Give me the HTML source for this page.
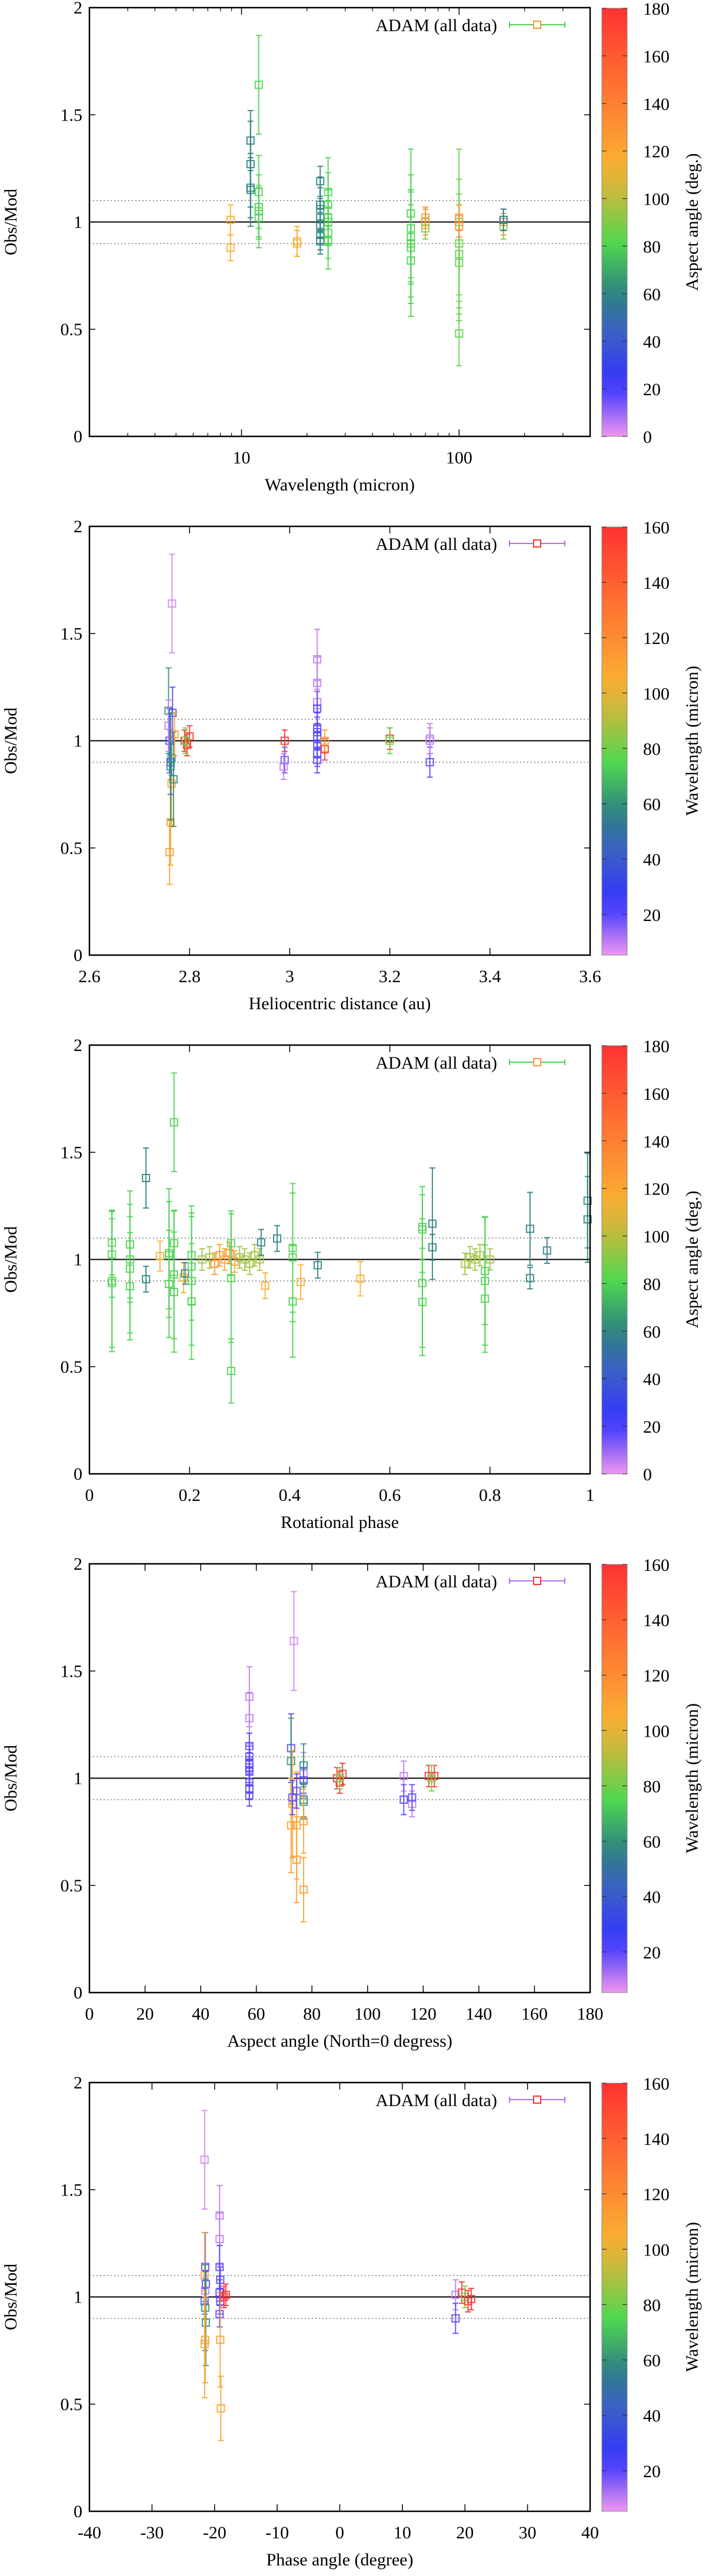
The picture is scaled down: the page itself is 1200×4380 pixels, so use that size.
<!DOCTYPE html>
<html><head><meta charset="utf-8">
<style>
html,body{margin:0;padding:0;background:#fff;}
svg text{font-family:"Liberation Serif",serif;fill:#000;}
</style></head>
<body>
<svg id="chart" width="1200" height="4375" viewBox="0 0 1200 4375" xmlns="http://www.w3.org/2000/svg"></svg>
<script>
// ---------- Panel 1: wavelength vs Obs/Mod, colour = aspect ----------
const p1X = [8.9,8.9,18,18,11,11,11,11,12,12,12,12,12,23,23,23,23,23,23,23,25,25,25,25,25,25,60,60,60,60,60,60,70,70,70,100,100,100,100,100,100,100,160,160,160];
const p1Y = [1.01,0.88,0.91,0.90,1.38,1.27,1.15,1.16,1.64,1.14,1.07,1.02,1.05,1.19,1.08,1.06,1.02,0.98,0.94,0.91,1.14,1.08,1.02,0.95,0.91,1.00,1.04,0.97,0.93,0.90,0.88,0.82,1.00,0.97,1.02,1.00,0.90,0.85,0.81,0.48,1.02,0.98,1.00,0.98,1.01];
const p1E = [0.07,0.06,0.07,0.06,0.14,0.20,0.17,0.14,0.23,0.17,0.15,0.14,0.12,0.07,0.13,0.10,0.09,0.08,0.07,0.06,0.16,0.15,0.13,0.12,0.13,0.10,0.30,0.25,0.22,0.25,0.26,0.26,0.06,0.05,0.05,0.34,0.30,0.28,0.27,0.15,0.06,0.05,0.06,0.06,0.05];
const p1C = [115,115,115,115,60,60,60,60,80,80,80,80,80,60,60,60,60,60,60,60,80,80,80,80,80,80,80,80,80,80,80,80,130,90,130,85,85,85,85,85,130,130,130,90,55];

// ---------- Panel 2: heliocentric distance, colour = wavelength ----------
const p2X = [2.765,2.758,2.76,2.762,2.764,2.768,2.76,2.762,2.766,2.758,2.764,2.77,2.762,2.79,2.795,2.8,2.792,2.99,2.99,2.988,3.055,3.055,3.055,3.055,3.055,3.055,3.055,3.055,3.055,3.055,3.07,3.07,3.2,3.2,3.28,3.28,3.28];
const p2Y = [1.64,1.14,0.48,0.62,0.80,0.82,1.00,0.90,1.13,1.07,0.92,1.03,0.88,1.00,0.98,1.02,1.00,1.00,0.91,0.88,1.38,1.27,1.18,1.15,1.06,1.04,1.02,0.98,0.94,0.91,0.96,1.00,1.01,1.00,1.01,0.90,1.00];
const p2E = [0.23,0.20,0.15,0.20,0.20,0.22,0.15,0.15,0.12,0.12,0.08,0.10,0.25,0.05,0.05,0.05,0.06,0.05,0.06,0.06,0.14,0.12,0.10,0.08,0.07,0.07,0.06,0.06,0.06,0.06,0.05,0.05,0.05,0.06,0.07,0.07,0.06];
const p2C = [8,60,110,110,110,60,20,20,20,10,60,110,60,160,160,160,80,160,18,10,10,10,10,20,20,20,20,20,20,20,160,110,160,80,10,20,10];

// ---------- Panel 3: rotational phase, colour = aspect ----------
const p3X = [0.045,0.045,0.045,0.045,0.081,0.081,0.081,0.081,0.113,0.113,0.141,0.159,0.159,0.159,0.169,0.169,0.169,0.169,0.188,0.191,0.204,0.204,0.204,0.204,0.225,0.24,0.25,0.26,0.27,0.28,0.29,0.3,0.31,0.32,0.33,0.34,0.283,0.283,0.283,0.343,0.351,0.375,0.406,0.406,0.406,0.422,0.456,0.541,0.665,0.665,0.665,0.665,0.685,0.685,0.75,0.76,0.77,0.78,0.8,0.79,0.79,0.79,0.88,0.88,0.914,0.995,0.995];
const p3Y = [1.078,1.024,0.90,0.89,1.07,1.00,0.957,0.875,1.38,0.908,1.016,1.03,1.02,0.886,1.64,1.076,0.93,0.848,0.915,0.935,1.02,0.967,0.90,0.804,1.0,1.01,0.98,1.02,1.0,1.03,0.99,1.01,1.0,0.98,1.02,1.0,1.076,0.913,0.48,1.08,0.878,1.098,1.054,1.01,0.804,0.895,0.973,0.91,1.152,1.14,0.89,0.802,1.167,1.057,0.98,1.01,1.0,1.02,1.0,0.946,0.90,0.817,1.143,0.913,1.042,1.274,1.187];
const p3E = [0.15,0.2,0.33,0.3,0.25,0.2,0.3,0.25,0.14,0.06,0.07,0.3,0.25,0.25,0.23,0.15,0.3,0.28,0.07,0.05,0.23,0.25,0.3,0.27,0.05,0.05,0.05,0.05,0.05,0.05,0.05,0.05,0.05,0.05,0.05,0.05,0.15,0.3,0.15,0.06,0.06,0.06,0.3,0.3,0.26,0.08,0.06,0.08,0.15,0.2,0.3,0.25,0.26,0.06,0.05,0.05,0.05,0.05,0.05,0.25,0.3,0.25,0.17,0.05,0.06,0.22,0.2];
const p3C = [80,80,80,80,80,80,80,80,60,60,115,80,80,80,80,80,80,80,115,60,80,80,80,80,95,95,130,125,120,130,125,95,95,95,95,95,80,80,80,60,115,60,80,80,80,115,60,115,80,80,80,80,60,60,95,95,95,95,95,80,80,80,60,60,60,60,60];

// ---------- Panel 4: aspect angle, colour = wavelength ----------
const p4X = [57.5,57.5,57.5,57.5,57.5,57.5,57.5,57.5,57.5,57.5,72.5,73.5,72.5,73,72.5,73,74.5,74.5,74.5,77,77,77,77,77,77,77,89,90,91,90,113,113,116,116,122,124,123];
const p4Y = [1.38,1.28,1.15,1.10,1.07,1.05,1.03,0.98,0.95,0.92,1.14,1.64,1.08,0.88,0.78,0.91,0.62,0.78,0.94,1.02,1.06,0.99,0.90,0.89,0.80,0.48,1.00,0.98,1.02,1.00,1.01,0.90,0.88,0.91,1.01,1.01,1.00];
const p4E = [0.14,0.12,0.06,0.05,0.05,0.05,0.05,0.05,0.05,0.05,0.16,0.23,0.20,0.25,0.22,0.08,0.2,0.25,0.08,0.1,0.1,0.06,0.08,0.08,0.15,0.15,0.05,0.05,0.05,0.05,0.07,0.07,0.06,0.06,0.05,0.05,0.06];
const p4C = [10,10,20,20,20,20,20,20,20,20,20,8,60,110,110,20,110,110,20,10,60,20,60,60,110,110,160,160,160,80,10,20,10,20,160,160,80];

// ---------- Panel 5: phase angle, colour = wavelength ----------
const p5X = [-21.6,-21.5,-21.6,-21.4,-21.5,-21.6,-21.5,-21.4,-21.5,-21.6,-19.2,-19.2,-19.2,-19.1,-19.2,-19.1,-19.2,-19.1,-19.0,-18.5,-18.2,18.5,18.5,19.5,20.0,20.5,21.0];
const p5Y = [1.64,1.14,1.10,1.06,1.03,0.98,0.95,0.88,0.80,0.78,1.38,1.27,1.14,1.08,1.02,0.98,0.92,0.80,0.48,1.00,1.01,1.01,0.90,1.02,1.00,0.98,0.99];
const p5E = [0.23,0.16,0.2,0.06,0.06,0.06,0.2,0.2,0.2,0.25,0.14,0.12,0.1,0.06,0.06,0.06,0.06,0.22,0.15,0.05,0.05,0.07,0.07,0.05,0.05,0.05,0.05];
const p5C = [8,20,110,20,10,20,60,60,110,110,10,10,20,20,20,20,20,110,110,160,160,10,20,160,80,160,160];

const yTicks = [0,0.5,1,1.5,2];
const yTickLabels = ["0","0.5","1","1.5","2"];

const svg = document.getElementById('chart');
const NS = "http://www.w3.org/2000/svg";
function mk(tag, attrs, parent){
  const e = document.createElementNS(NS, tag);
  for (const k in attrs) e.setAttribute(k, attrs[k]);
  (parent||svg).appendChild(e);
  return e;
}
function lerp(a,b,t){return a+(b-a)*t;}
const stops = [[0,[240,150,240]],[0.12,[50,50,255]],[0.24,[60,95,200]],[0.33,[45,128,130]],[0.45,[80,215,80]],[0.57,[200,185,60]],[0.64,[250,175,50]],[0.8,[255,120,50]],[1,[255,50,50]]];
function cmap(t){
  t=Math.max(0,Math.min(1,t));
  for(let i=1;i<stops.length;i++){
    if(t<=stops[i][0]){
      const a=stops[i-1],b=stops[i];const u=(t-a[0])/(b[0]-a[0]);
      return 'rgb('+Math.round(lerp(a[1][0],b[1][0],u))+','+Math.round(lerp(a[1][1],b[1][1],u))+','+Math.round(lerp(a[1][2],b[1][2],u))+')';
    }
  }
  return 'rgb(255,50,50)';
}

const L=152, R=1003, PITCH=882;
const panels = [
  {X:p1X,Y:p1Y,E:p1E,C:p1C, log:true, xmin:2, xmax:400, xt:[10,100], xtl:["10","100"], minor:[2,3,4,5,6,7,8,9,20,30,40,50,60,70,80,90,200,300,400],
   xlabel:"Wavelength (micron)", cmin:0,cmax:180, cticks:[0,20,40,60,80,100,120,140,160,180], clabel:"Aspect angle (deg.)", legLine:cmap(80/180), legSq:cmap(130/180)},
  {X:p2X,Y:p2Y,E:p2E,C:p2C, xmin:2.6,xmax:3.6, xt:[2.6,2.8,3.0,3.2,3.4,3.6], xtl:["2.6","2.8","3","3.2","3.4","3.6"],
   xlabel:"Heliocentric distance (au)", cmin:5.3,cmax:160, cticks:[20,40,60,80,100,120,140,160], clabel:"Wavelength (micron)", legLine:"#b070f0", legSq:"#ff3030"},
  {X:p3X,Y:p3Y,E:p3E,C:p3C, xmin:0,xmax:1, xt:[0,0.2,0.4,0.6,0.8,1], xtl:["0","0.2","0.4","0.6","0.8","1"],
   xlabel:"Rotational phase", cmin:0,cmax:180, cticks:[0,20,40,60,80,100,120,140,160,180], clabel:"Aspect angle (deg.)", legLine:cmap(80/180), legSq:cmap(130/180)},
  {X:p4X,Y:p4Y,E:p4E,C:p4C, xmin:0,xmax:180, xt:[0,20,40,60,80,100,120,140,160,180], xtl:["0","20","40","60","80","100","120","140","160","180"],
   xlabel:"Aspect angle (North=0 degress)", cmin:5.3,cmax:160, cticks:[20,40,60,80,100,120,140,160], clabel:"Wavelength (micron)", legLine:"#b070f0", legSq:"#ff3030"},
  {X:p5X,Y:p5Y,E:p5E,C:p5C, xmin:-40,xmax:40, xt:[-40,-30,-20,-10,0,10,20,30,40], xtl:["-40","-30","-20","-10","0","10","20","30","40"],
   xlabel:"Phase angle (degree)", cmin:5.3,cmax:160, cticks:[20,40,60,80,100,120,140,160], clabel:"Wavelength (micron)", legLine:"#b070f0", legSq:"#ff3030"}
];

panels.forEach((p,k)=>{
  const T = 13 + PITCH*k, B = 742 + PITCH*k;
  const g = mk('g',{});
  
  
  const xs = v => p.log ? L + (Math.log10(v)-Math.log10(p.xmin))/(Math.log10(p.xmax)-Math.log10(p.xmin))*(R-L) : L + (v-p.xmin)/(p.xmax-p.xmin)*(R-L);
  const ys = v => B - v/2*(B-T);

  const l1 = mk('line',{x1:L,x2:R,y1:ys(1),y2:ys(1),stroke:'#000','stroke-width':2},g);
  
  
  [0.9,1.1].forEach(v=>{
    const d = mk('line',{x1:L,x2:R,y1:ys(v),y2:ys(v),stroke:'#999','stroke-width':2,'stroke-dasharray':'2,4'},g);
    
    
  });

  for(let i=0;i<p.X.length;i++){
    const col = cmap((p.C[i]-p.cmin)/(p.cmax-p.cmin));
    const x = xs(p.X[i]), y = ys(p.Y[i]);
    const y1 = ys(p.Y[i]+p.E[i]), y2 = ys(p.Y[i]-p.E[i]);
    const pg = mk('g',{stroke:col,'stroke-width':2,fill:'none','stroke-opacity':0.9},g);
    
    
    mk('line',{x1:x,x2:x,y1:y1,y2:y2},pg);
    mk('line',{x1:x-5,x2:x+5,y1:y1,y2:y1},pg);
    mk('line',{x1:x-5,x2:x+5,y1:y2,y2:y2},pg);
    mk('rect',{x:x-6,y:y-6,width:12,height:12},pg);
  }

  const fr = mk('rect',{x:L,y:T,width:R-L,height:B-T,fill:'none',stroke:'#000','stroke-width':2.5},g);
  
  

  yTicks.forEach((v,j)=>{
    const y=ys(v);
    mk('line',{x1:L,x2:L+10,y1:y,y2:y,stroke:'#000','stroke-width':1.5},g);
    mk('line',{x1:R-10,x2:R,y1:y,y2:y,stroke:'#000','stroke-width':1.5},g);
    const t = mk('text',{x:140,y:y+10,'text-anchor':'end','font-size':30},g);
    t.textContent = yTickLabels[j];
    
    
  });
  p.xt.forEach((v,j)=>{
    const x=xs(v);
    mk('line',{x1:x,x2:x,y1:B,y2:B-12,stroke:'#000','stroke-width':1.5},g);
    mk('line',{x1:x,x2:x,y1:T,y2:T+12,stroke:'#000','stroke-width':1.5},g);
    const t = mk('text',{x:x,y:B+46,'text-anchor':'middle','font-size':30},g);
    t.textContent = p.xtl[j];
    
    
  });
  if(p.minor){
    p.minor.forEach(v=>{
      const x=xs(v);
      mk('line',{x1:x,x2:x,y1:B,y2:B-6,stroke:'#000','stroke-width':1.2},g);
      mk('line',{x1:x,x2:x,y1:T,y2:T+6,stroke:'#000','stroke-width':1.2},g);
    });
  }
  const xl = mk('text',{x:(L+R)/2,y:B+92,'text-anchor':'middle','font-size':30},g);
  xl.textContent = p.xlabel;
  
  
  const ym = (T+B)/2;
  const yl = mk('text',{x:0,y:0,'text-anchor':'middle','font-size':30,transform:'translate(28,'+ym+') rotate(-90)'},g);
  yl.textContent = 'Obs/Mod';
  
  

  const lg = mk('g',{},g);
  
  
  const lt = mk('text',{x:845,y:T+40,'text-anchor':'end','font-size':30},lg);
  lt.textContent = 'ADAM (all data)';
  mk('line',{x1:866,x2:960,y1:T+29,y2:T+29,stroke:p.legLine,'stroke-width':2},lg);
  mk('line',{x1:866,x2:866,y1:T+24,y2:T+34,stroke:p.legLine,'stroke-width':2},lg);
  mk('line',{x1:960,x2:960,y1:T+24,y2:T+34,stroke:p.legLine,'stroke-width':2},lg);
  mk('rect',{x:907,y:T+23,width:12,height:12,fill:'#fff',stroke:p.legSq,'stroke-width':2},lg);

  const gid='cb'+k;
  const defs = mk('defs',{},g);
  const grad = mk('linearGradient',{id:gid,x1:0,y1:1,x2:0,y2:0},defs);
  for(let s=0;s<=20;s++){
    mk('stop',{offset:(s/20),'stop-color':cmap(s/20)},grad);
  }
  const cb = mk('rect',{x:1023,y:T+1,width:43,height:B-T-1,fill:'url(#'+gid+')',stroke:'#888','stroke-width':1},g);
  
  
  const cs = v => B - (v-p.cmin)/(p.cmax-p.cmin)*(B-T-1);
  p.cticks.forEach(v=>{
    const y=cs(v);
    mk('line',{x1:1023,x2:1031,y1:y,y2:y,stroke:'#333','stroke-width':1.2},g);
    mk('line',{x1:1058,x2:1066,y1:y,y2:y,stroke:'#333','stroke-width':1.2},g);
    const t = mk('text',{x:1093,y:y+11,'text-anchor':'start','font-size':30},g);
    t.textContent = String(v);
    
    
  });
  const cl = mk('text',{x:0,y:0,'text-anchor':'middle','font-size':30,transform:'translate(1186,'+ym+') rotate(-90)'},g);
  cl.textContent = p.clabel;
  
  
});
</script>
</body></html>
